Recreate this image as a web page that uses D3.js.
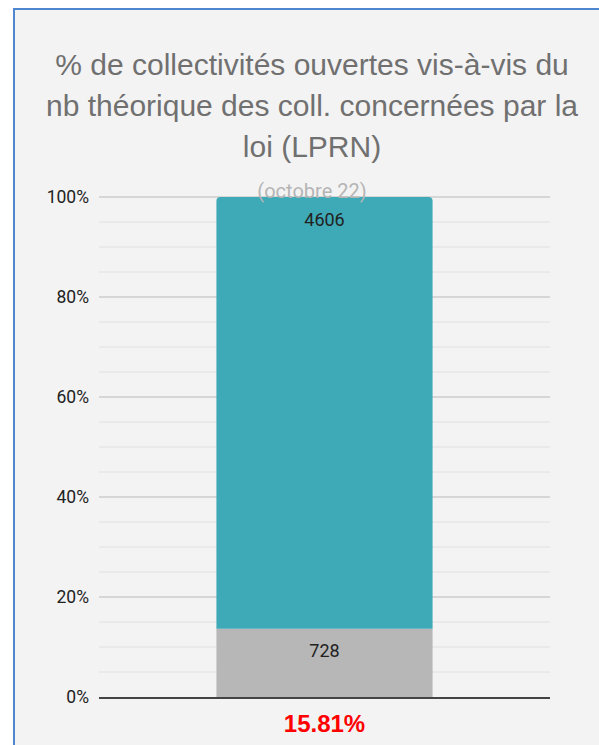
<!DOCTYPE html>
<html>
<head>
<meta charset="utf-8">
<script src="https://cdn.jsdelivr.net/npm/d3@7"></script>
<style>
  body { margin: 0; background: #ffffff; }
  svg { display: block; }
</style>
</head>
<body>
<svg width="599" height="745"></svg>
<script>
const categories = ["15.81%"];
const seriesNames = ["ouvertes", "restantes"];
const ouvertes = [728];
const restantes = [4606];
const yTicks = [0, 0.2, 0.4, 0.6, 0.8, 1];
const titleLines = [
  "% de collectivités ouvertes vis-à-vis du",
  "nb théorique des coll. concernées par la",
  "loi (LPRN)"
];
const subtitle = "(octobre 22)";

const colors = { ouvertes: "#b7b7b7", restantes: "#3eaab7" };

const svg = d3.select("svg");
const margin = { left: 99, right: 49, top: 197, bottom: 48 };
const W = 599, H = 745;

// panel background + blue frame
svg.append("rect").attr("x", 14).attr("y", 9).attr("width", W - 14).attr("height", H - 9)
  .attr("fill", "#f3f3f3");
svg.append("path")
  .attr("d", `M${W},9 H14 V${H}`)
  .attr("fill", "none").attr("stroke", "#4f86d0").attr("stroke-width", 2);

// title
svg.append("g").selectAll("text").data(titleLines).enter().append("text")
  .attr("x", 312).attr("y", (d, i) => 75 + i * 41)
  .attr("text-anchor", "middle")
  .attr("font-family", "Liberation Sans, Arial, sans-serif")
  .attr("font-size", 30).attr("fill", "#707070")
  .text(d => d);

const x = d3.scaleBand().domain(categories)
  .range([margin.left, W - margin.right]).padding(0.352);
const y = d3.scaleLinear().domain([0, 1]).range([H - margin.bottom, margin.top]);

// gridlines
const minor = d3.range(0, 1.0001, 0.05).filter(v => Math.round(v * 100) % 20 !== 0);
svg.append("g").selectAll("line").data(minor).enter().append("line")
  .attr("x1", margin.left).attr("x2", W - margin.right)
  .attr("y1", d => y(d)).attr("y2", d => y(d))
  .attr("stroke", "#e0e0e0").attr("stroke-width", 1);
svg.append("g").selectAll("line").data(yTicks.filter(v => v > 0)).enter().append("line")
  .attr("x1", margin.left).attr("x2", W - margin.right)
  .attr("y1", d => y(d)).attr("y2", d => y(d))
  .attr("stroke", "#cccccc").attr("stroke-width", 1.3);

// y axis labels
const yAxis = svg.append("g").attr("transform", `translate(${margin.left},0)`)
  .call(d3.axisLeft(y).tickValues(yTicks).tickFormat(d3.format(".0%")).tickSize(0).tickPadding(10));
yAxis.select(".domain").remove();
yAxis.selectAll("text")
  .attr("font-family", "Roboto, sans-serif").attr("font-size", 17.5).attr("fill", "#222");

// stacked bars
const table = categories.map((c, i) => ({ cat: c, ouvertes: ouvertes[i], restantes: restantes[i] }));
const stacked = d3.stack().keys(seriesNames).offset(d3.stackOffsetExpand)(table);

const groups = svg.append("g").selectAll("g").data(stacked).enter().append("g")
  .attr("fill", d => colors[d.key]);

groups.selectAll("path").data(d => d.map(p => Object.assign({ key: d.key }, p))).enter().append("path")
  .attr("d", d => {
    const x0 = x(d.data.cat), w = x.bandwidth();
    const yTop = y(d[1]), yBot = y(d[0]);
    const r = d.key === "restantes" ? 4 : 0;
    return `M${x0},${yBot} V${yTop + r} Q${x0},${yTop} ${x0 + r},${yTop} H${x0 + w - r} Q${x0 + w},${yTop} ${x0 + w},${yTop + r} V${yBot} Z`;
  });

// data labels
groups.selectAll("text").data(d => d.map(p => Object.assign({ key: d.key }, p))).enter().append("text")
  .attr("x", d => x(d.data.cat) + x.bandwidth() / 2)
  .attr("y", d => d.key === "restantes" ? y(d[1]) + 29 : y(d[1]) + 28)
  .attr("text-anchor", "middle")
  .attr("font-family", "Roboto, sans-serif").attr("font-size", 18).attr("fill", "#222")
  .text(d => d.data[d.key]);

// baseline
svg.append("line")
  .attr("x1", margin.left).attr("x2", W - margin.right)
  .attr("y1", y(0) + 1).attr("y2", y(0) + 1)
  .attr("stroke", "#444").attr("stroke-width", 2);

// x axis label
svg.append("g").selectAll("text").data(categories).enter().append("text")
  .attr("x", d => x(d) + x.bandwidth() / 2).attr("y", 732)
  .attr("text-anchor", "middle")
  .attr("font-family", "Liberation Sans, Arial, sans-serif")
  .attr("font-weight", "bold").attr("font-size", 24).attr("fill", "#ff0000")
  .text(d => d);

// subtitle (drawn over the chart as in the source)
svg.append("text")
  .attr("x", 312).attr("y", 198)
  .attr("text-anchor", "middle")
  .attr("font-family", "Roboto, sans-serif").attr("font-size", 20).attr("fill", "#b5b5b5")
  .text(subtitle);
</script>
</body>
</html>
